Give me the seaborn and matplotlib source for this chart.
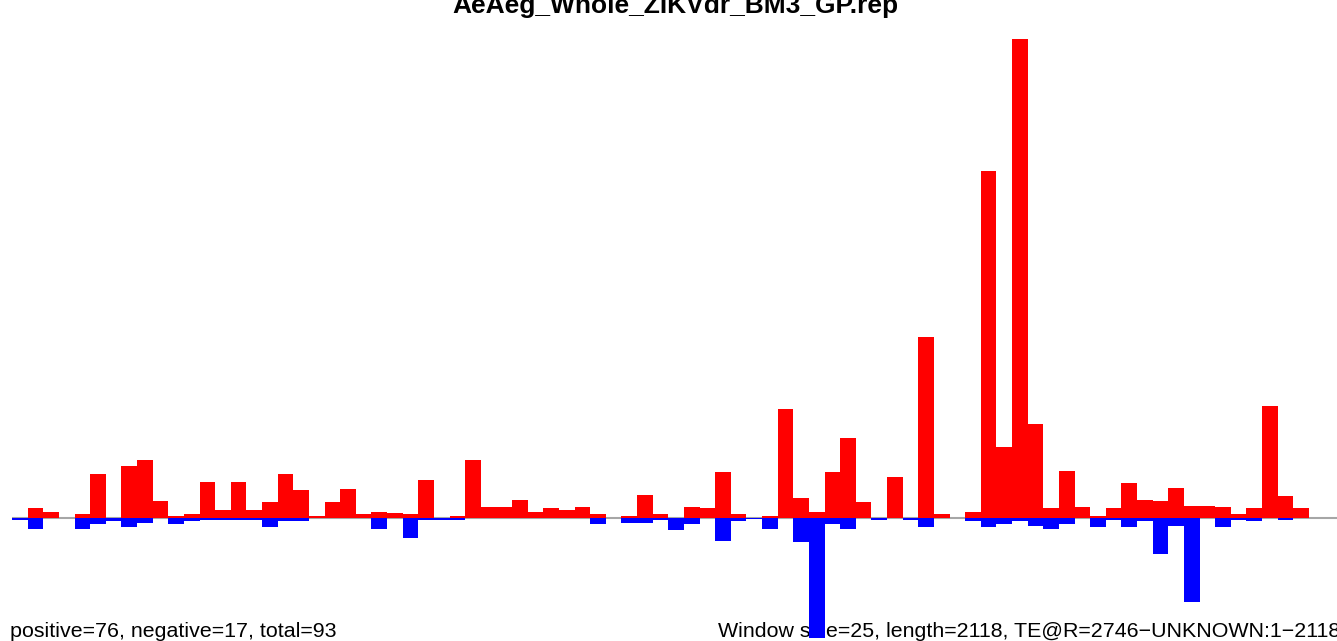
import matplotlib
matplotlib.use("Agg")
import matplotlib.pyplot as plt
import seaborn as sns

# =========================
# Data (one bar per 25 bp window)
# =========================

title = "AeAeg_Whole_ZIKVdr_BM3_GP.rep"
left_note = "positive=76, negative=17, total=93"
right_note = "Window size=25, length=2118, TE@R=2746\u2212UNKNOWN:1\u22122118"

windows = list(range(85))

positive = [
    0, 9.7, 5.7, 0, 3.7, 43.7, 0, 51.7, 57.7, 16.7,
    1.7, 3.7, 35.7, 7.7, 35.7, 7.7, 15.7, 43.7, 27.7, 1.7,
    15.7, 28.7, 3.7, 5.7, 4.7, 3.7, 37.7, 0, 1.7, 57.7,
    10.7, 10.7, 17.7, 5.7, 9.7, 7.7, 10.7, 3.7, 0, 1.7,
    22.7, 3.7, 0, 10.7, 9.7, 45.7, 3.7, 0, 1.7, 108.7,
    19.7, 5.7, 45.7, 79.7, 15.7, 0, 40.7, 0, 181, 3.7,
    0, 5.7, 347, 70.7, 478.7, 93.7, 9.7, 46.7, 10.7, 1.7,
    9.7, 34.7, 17.7, 16.7, 29.7, 11.7, 11.7, 10.7, 3.7, 9.7,
    111.7, 21.7, 9.7, 0, 0,
]

negative = [
    2, 11.3, 0, 0, 11.3, 6.3, 3.3, 9.3, 5.3, 0,
    6.3, 3.3, 2.3, 2.3, 2.3, 2.3, 9.3, 3.3, 3.3, 0,
    0, 0, 0, 11.3, 0, 20.3, 2.3, 2.3, 2.3, 0,
    0, 0, 0, 0, 0, 0, 0, 6.3, 0, 5.3,
    5.3, 2.3, 12.3, 6.3, 0, 23.3, 3.3, 1.3, 11.3, 0,
    24.3, 120, 6.3, 11.3, 0, 2.3, 0, 2.3, 9.3, 0,
    0, 3.3, 9, 6, 3, 8, 11, 6, 0, 9,
    2, 9, 3, 36, 8, 84, 0, 9, 2, 3,
    0, 2, 0, 0, 0,
]

# =========================
# Plot
# =========================

sns.set_style("white")
plt.rcParams["font.family"] = ["Liberation Sans", "DejaVu Sans"]

W, H = 1337, 641
fig = plt.figure(figsize=(W / 100, H / 100), dpi=100)
ax = fig.add_axes([12 / W, 0, 1 - 12 / W, 1])

ax.axhline(0, color="#a6a6a6", lw=1.5, zorder=0.8)

sns.barplot(x=windows, y=positive, color="#ff0000", saturation=1,
            width=1, linewidth=0, errorbar=None, ax=ax, zorder=2)
sns.barplot(x=windows, y=[-v for v in negative], color="#0000ff", saturation=1,
            width=1, linewidth=0, errorbar=None, ax=ax, zorder=2)

ax.set_xlim(-0.5, -0.5 + (W - 12) / 15.625)
ax.set_ylim(-(H - 517.7), 517.7)
ax.set_axis_off()

ax.text(675 / W, 1 - 13 / H, title, transform=fig.transFigure,
        ha="center", va="baseline", fontsize=19, fontweight="bold",
        color="black", clip_on=False, zorder=0.5)
ax.text(10 / W, 1 - 637 / H, left_note, transform=fig.transFigure,
        ha="left", va="baseline", fontsize=15.4, color="black",
        clip_on=False, zorder=0.5)
ax.text(718 / W, 1 - 637 / H, right_note, transform=fig.transFigure,
        ha="left", va="baseline", fontsize=15.4, color="black",
        clip_on=False, zorder=0.5)

fig.savefig("out.png", dpi=100)
